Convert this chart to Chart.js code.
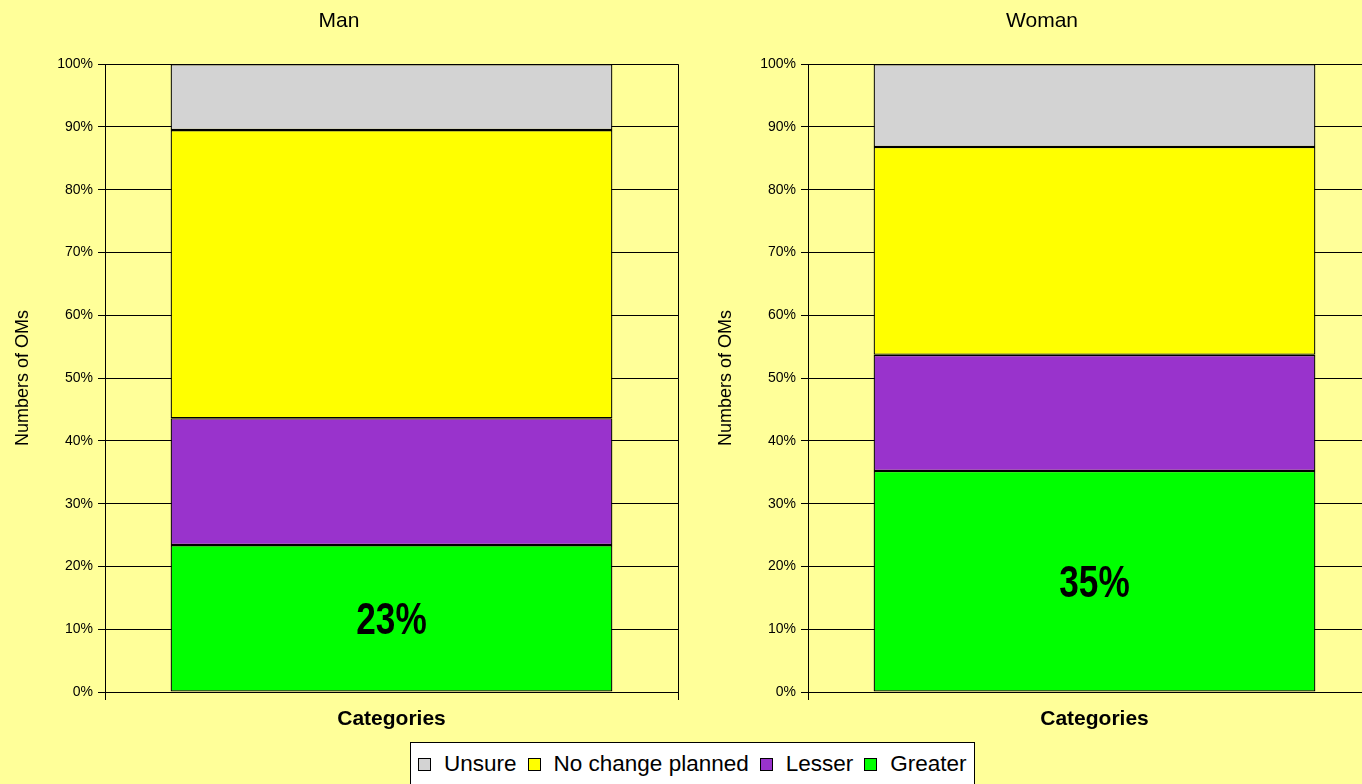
<!DOCTYPE html>
<html>
<head>
<meta charset="utf-8">
<script src="https://cdn.jsdelivr.net/npm/chart.js@4/dist/chart.umd.min.js"></script>
<style>
body { margin: 0; background: #FFFF99; width: 1362px; height: 784px; overflow: hidden; position: relative; font-family: "Liberation Sans", Arial, sans-serif; }
.panel { position: absolute; top: 0; width: 682px; height: 742px; }
#legend { position: absolute; left: 410px; top: 742px; width: 565px; height: 44px; background: #fff; border: 1px solid #000; box-sizing: border-box; display: flex; align-items: center; padding-left: 7px; font-size: 22.5px; color: #000; white-space: nowrap; overflow: hidden; }
#legend span.sw { display: inline-block; width: 11px; height: 11px; border: 1px solid #000; margin-right: 13px; flex-shrink: 0; }
#legend span.it { margin-right: 11px; display: flex; align-items: center; flex-shrink: 0; white-space: nowrap; }
</style>
</head>
<body>
<canvas id="c0" class="panel" width="682" height="742" style="left:0px"></canvas>
<canvas id="c1" class="panel" width="682" height="742" style="left:703px"></canvas>
<div id="legend"></div>
<script>
// data
const panels = ['Man', 'Woman'];
const categories = [''];
const seriesNames = ['Greater', 'Lesser', 'No change planned', 'Unsure'];
const seriesColors = ['#00FF00', '#9933CC', '#FFFF00', '#D3D3D3'];
const greater = [23.4, 35.2];
const lesser = [20.2, 18.5];
const noChange = [45.9, 33.1];
const unsure = [10.5, 13.2];
const greaterLabels = ['23%', '35%'];
const yTicks = [0, 10, 20, 30, 40, 50, 60, 70, 80, 90, 100];

const allSeries = [greater, lesser, noChange, unsure];

// legend (reverse order like the original)
const leg = document.getElementById('legend');
for (let i = seriesNames.length - 1; i >= 0; i--) {
    const it = document.createElement('span');
    it.className = 'it';
    it.innerHTML = '<span class="sw" style="background:' + seriesColors[i] + '"></span>' + seriesNames[i];
    leg.appendChild(it);
}

// big condensed label in the middle of the green segment
const bigLabel = {
    id: 'bigLabel',
    afterDatasetsDraw(chart, args, opts) {
        const bar = chart.getDatasetMeta(0).data[0];
        const c = chart.ctx;
        c.save();
        c.translate(bar.x, (bar.y + bar.base) / 2 + 4);
        c.scale(0.8, 1);
        c.font = 'bold 44px "Liberation Sans", Arial, sans-serif';
        c.fillStyle = '#000';
        c.textAlign = 'center';
        c.textBaseline = 'middle';
        c.fillText(opts.text, 0, 0);
        c.restore();
    }
};

function makeChart(id, p) {
    const datasets = allSeries.map((s, i) => ({
        label: seriesNames[i],
        data: [s[p]],
        backgroundColor: seriesColors[i],
        borderColor: '#000',
        borderWidth: 1.3,
        borderSkipped: false,
        barPercentage: 0.771,
        categoryPercentage: 1
    }));
    new Chart(document.getElementById(id), {
        type: 'bar',
        data: { labels: categories, datasets: datasets },
        plugins: [bigLabel],
        options: {
            responsive: false,
            animation: false,
            layout: { padding: { top: 0, right: 4, left: 0, bottom: 0 } },
            plugins: {
                legend: { display: false },
                tooltip: { enabled: false },
                bigLabel: { text: greaterLabels[p] },
                title: {
                    display: true,
                    text: panels[p],
                    color: '#000',
                    font: { size: 21, weight: 'normal', family: '"Liberation Sans", Arial, sans-serif' },
                    padding: { top: 9, bottom: 30 }
                }
            },
            scales: {
                x: {
                    stacked: true,
                    offset: true,
                    grid: { offset: true, color: '#000', tickLength: 8, drawTicks: true },
                    border: { color: '#000' },
                    ticks: { display: false },
                    title: {
                        display: true,
                        text: 'Categories',
                        color: '#000',
                        font: { size: 21, weight: 'bold', family: '"Liberation Sans", Arial, sans-serif' },
                        padding: { bottom: 10 }
                    },
                    afterFit: s => { s.height = 50; }
                },
                y: {
                    stacked: true,
                    min: 0,
                    max: 100,
                    afterBuildTicks: s => { s.ticks = yTicks.map(v => ({ value: v })); },
                    ticks: {
                        callback: v => v + '%',
                        color: '#000',
                        padding: 5,
                        font: { size: 14, family: '"Liberation Sans", Arial, sans-serif' }
                    },
                    grid: { color: '#000', tickLength: 7 },
                    border: { color: '#000' },
                    title: {
                        display: true,
                        text: 'Numbers of OMs',
                        color: '#000',
                        font: { size: 18, family: '"Liberation Sans", Arial, sans-serif' },
                        padding: { top: 12 }
                    },
                    afterFit: s => { s.width = 105; }
                }
            }
        }
    });
}

makeChart('c0', 0);
makeChart('c1', 1);
</script>
</body>
</html>
